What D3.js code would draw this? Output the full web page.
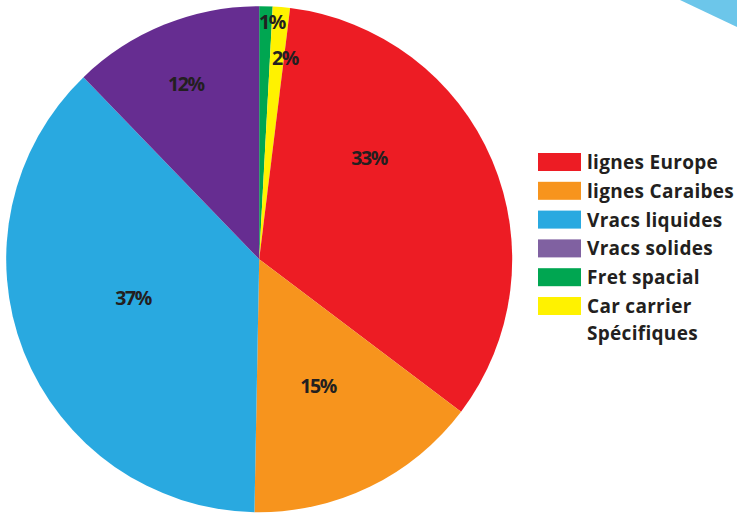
<!DOCTYPE html>
<html>
<head>
<meta charset="utf-8">
<script src="https://cdn.jsdelivr.net/npm/d3@7"></script>
<style>
  html, body { margin: 0; padding: 0; background: #fff; }
  svg { display: block; }
  text { font-family: "Open Sans", sans-serif; font-weight: 700; fill: #231F20; }
</style>
</head>
<body>
<svg id="chart" width="737" height="515"></svg>
<script>
// Data (clockwise from 12 o'clock)
const categories = ["Fret spacial", "Car carrier", "lignes Europe", "lignes Caraibes", "Vracs liquides", "Vracs solides"];
const values = [0.85, 1.1, 33.35, 15.0, 37.48, 12.22];
const percentLabels = ["1%", "2%", "33%", "15%", "37%", "12%"];
const sliceColors = ["#00A651", "#FFF200", "#ED1C24", "#F7941D", "#29A9E0", "#662D91"];

// Legend (order as in the reference)
const legendLabels = ["lignes Europe", "lignes Caraibes", "Vracs liquides", "Vracs solides", "Fret spacial", "Car carrier"];
const legendColors = ["#ED1C24", "#F7941D", "#29A9E0", "#8061A1", "#00A651", "#FFF200"];
const legendExtraLine = "Spécifiques";

// label placement (layout only): angle in degrees clockwise from top, radius in px
const labelAngle = [3.1, 7.3, 47.4, 155.1, 252.9, 337.3];
const labelRadius = [237.5, 202.8, 149.3, 139.8, 132, 189.9];

const svg = d3.select("#chart");

// decorative corner shape (top right)
svg.append("path")
  .attr("d", d3.line()([[680, 0], [737, 0], [737, 27]]) + "Z")
  .attr("fill", "#6CC6EA");

const cx = 259.2, cy = 259.2, r = 253;
const g = svg.append("g").attr("transform", `translate(${cx},${cy})`);

const pie = d3.pie().sort(null).value(d => d)(values);
const arc = d3.arc().innerRadius(0).outerRadius(r);

g.selectAll("path.slice")
  .data(pie)
  .join("path")
  .attr("class", "slice")
  .attr("d", arc)
  .attr("fill", (d, i) => sliceColors[i]);

g.selectAll("text.pct")
  .data(pie)
  .join("text")
  .attr("class", "pct")
  .attr("text-anchor", "middle")
  .attr("font-size", 19.5)
  .attr("font-weight", 800)
  .attr("letter-spacing", -1.4)
  .attr("dy", "0.36em")
  .attr("transform", (d, i) => {
    const a = labelAngle[i] * Math.PI / 180;
    const rr = labelRadius[i];
    return `translate(${Math.sin(a) * rr},${-Math.cos(a) * rr})`;
  })
  .text((d, i) => percentLabels[i]);

// legend
const lg = svg.append("g").attr("transform", "translate(538,153)");
const step = 28.8;
const y = d3.scaleLinear().domain([0, 1]).range([0, step]);
legendLabels.forEach((lab, i) => {
  lg.append("rect")
    .attr("x", 0).attr("y", y(i))
    .attr("width", 43).attr("height", 18)
    .attr("fill", legendColors[i]);
  lg.append("text")
    .attr("x", 49).attr("y", y(i) + 16)
    .attr("font-size", 19)
    .attr("letter-spacing", 0.3)
    .text(lab);
});
lg.append("text")
  .attr("x", 49).attr("y", y(5) + 16 + 27)
  .attr("font-size", 19)
  .attr("letter-spacing", 0.3)
  .text(legendExtraLine);
</script>
</body>
</html>
